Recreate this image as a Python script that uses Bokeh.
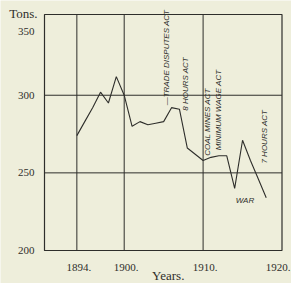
import math
from bokeh.plotting import figure
from bokeh.models import Range1d
from bokeh.core.properties import value
from bokeh.embed import file_html
from bokeh.resources import INLINE

# ---- data ----
years = [1894, 1895, 1896, 1897, 1898, 1899, 1900, 1901, 1902, 1903, 1904, 1905,
         1906, 1907, 1908, 1909, 1910, 1911, 1912, 1913, 1914, 1915, 1916, 1917, 1918]
tons = [274, 283, 292, 302, 295, 312, 300, 280, 283, 281, 282, 283,
        292, 291, 266, 262, 258, 260, 261, 261, 240, 271, 258, 246, 234]

x_ticks = [1894, 1900, 1910]
x_tick_labels = ["1894.", "1900.", "1910."]
x_end_tick = [1920]
x_end_label = ["1920."]
y_ticks = [200, 250, 300]
y_tick_labels = ["200", "250", "300"]
y_top_tick = [350]
y_top_label = ["350"]

box_x = (1889.9, 1920.0)   # chart box, in years
box_y = (200.0, 352.0)     # chart box, in tons

acts = ["\u2014TRADE DISPUTES ACT", "8 HOURS ACT", "COAL MINES ACT", "MINIMUM WAGE ACT", "7 HOURS ACT"]
act_x = [1905.4, 1907.8, 1910.5, 1912.0, 1917.8]
act_y = [293.5, 290.0, 261.0, 264.5, 256.0]
war_label = ["WAR"]
war_x = [1915.3]
war_y = [232.5]

BG = "#eeeedb"
INK = "#2e2e2b"
SERIF = "Liberation Serif"

W, H = 291, 283
# canvas extent around the chart box (box spans px 44..281.5 and 14..250)
px_per_year = (281.5 - 44) / (box_x[1] - box_x[0])
px_per_ton = (250 - 14) / (box_y[1] - box_y[0])
x_range = Range1d(box_x[0] - 44 / px_per_year, box_x[1] + (W - 281.5) / px_per_year)
y_range = Range1d(box_y[0] - (H - 250) / px_per_ton, box_y[1] + 14 / px_per_ton)

p = figure(width=W, height=H, output_backend="svg", toolbar_location=None,
           x_range=x_range, y_range=y_range, x_axis_type=None, y_axis_type=None,
           min_border=0)
p.background_fill_color = BG
p.border_fill_color = BG
p.outline_line_color = None

# chart box and grid lines at the ticks
p.quad(left=[box_x[0]], right=[box_x[1]], bottom=[box_y[0]], top=[box_y[1]],
       fill_color=None, line_color=INK, line_width=1.2)
p.segment(x0=x_ticks, y0=[box_y[0]] * len(x_ticks), x1=x_ticks, y1=[box_y[1]] * len(x_ticks),
          line_color=INK, line_width=1)
p.segment(x0=[box_x[0]] * len(y_ticks), y0=y_ticks, x1=[box_x[1]] * len(y_ticks), y1=y_ticks,
          line_color=INK, line_width=1)

# series
p.line(years, tons, line_color=INK, line_width=1.1)

# tick labels
p.text(x=x_ticks, y=[box_y[0]] * len(x_ticks), text=x_tick_labels, x_offset=2, y_offset=17,
       text_align="center", text_baseline="middle", text_font=value(SERIF),
       text_font_size="11px", text_color=INK)
p.text(x=x_end_tick, y=[box_y[0]], text=x_end_label, x_offset=8.5, y_offset=17,
       text_align="right", text_baseline="middle", text_font=value(SERIF),
       text_font_size="11px", text_color=INK)
p.text(x=[box_x[0]] * len(y_ticks), y=y_ticks, text=y_tick_labels, x_offset=-10,
       text_align="right", text_baseline="middle", text_font=value(SERIF),
       text_font_size="11px", text_color=INK)
p.text(x=[box_x[0]], y=y_top_tick, text=y_top_label, x_offset=-10, y_offset=14,
       text_align="right", text_baseline="middle", text_font=value(SERIF),
       text_font_size="11px", text_color=INK)
p.text(x=[box_x[0]], y=[box_y[1]], text=["Tons."], x_offset=-7, y_offset=-1,
       text_align="right", text_baseline="middle", text_font=value(SERIF),
       text_font_size="13px", text_color=INK)
p.text(x=[(box_x[0] + box_x[1]) / 2], y=[box_y[0]], text=["Years."], x_offset=5, y_offset=25,
       text_align="center", text_baseline="middle", text_font=value(SERIF),
       text_font_size="13px", text_color=INK)

# act annotations
p.text(x=act_x, y=act_y, text=acts, angle=math.pi / 2,
       text_align="left", text_baseline="middle",
       text_font=value("Liberation Sans"), text_font_style="italic",
       text_font_size="8px", text_color=INK)
p.text(x=war_x, y=war_y, text=war_label, text_align="center", text_baseline="middle",
       text_font=value("Liberation Sans"), text_font_style="italic",
       text_font_size="8px", text_color=INK)

open("out.html", "w").write(file_html(p, INLINE))
